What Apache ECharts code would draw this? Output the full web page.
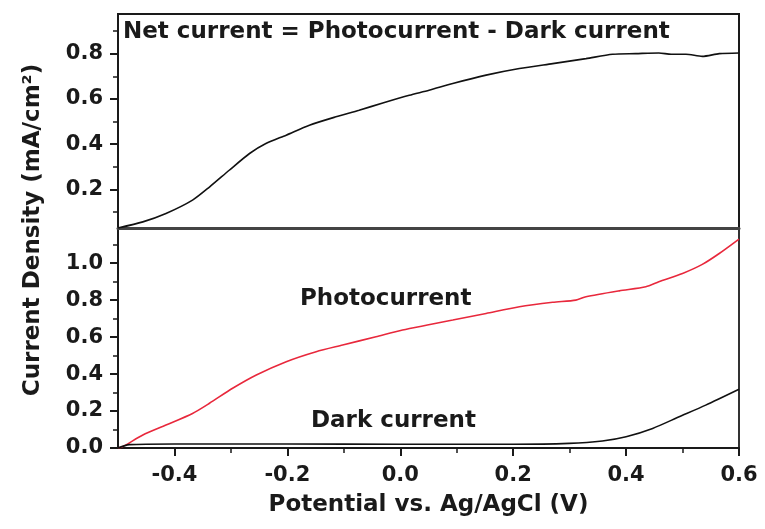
<!DOCTYPE html>
<html>
<head>
<meta charset="utf-8">
<script src="https://cdn.jsdelivr.net/npm/echarts@6/dist/echarts.min.js"></script>
<style>
html,body{margin:0;padding:0;background:#fff;}
#chart{width:765px;height:529px;}
</style>
</head>
<body>
<div id="chart"></div>
<script>
// ---- data ----
const netX = [-0.5, -0.456, -0.415, -0.368, -0.338, -0.303, -0.267, -0.238, -0.202, -0.161, -0.114, -0.073, -0.031, 0.016, 0.051, 0.093, 0.152, 0.211, 0.27, 0.329, 0.376, 0.417, 0.458, 0.48, 0.506, 0.535, 0.565, 0.6];
const netY = [0.03, 0.057, 0.094, 0.153, 0.211, 0.285, 0.359, 0.403, 0.44, 0.484, 0.521, 0.55, 0.582, 0.616, 0.638, 0.668, 0.705, 0.734, 0.756, 0.778, 0.797, 0.80, 0.803, 0.797, 0.797, 0.788, 0.80, 0.803];

const photoX = [-0.5, -0.492, -0.456, -0.415, -0.368, -0.338, -0.297, -0.255, -0.202, -0.149, -0.102, -0.043, 0.004, 0.048, 0.093, 0.152, 0.211, 0.27, 0.311, 0.329, 0.388, 0.435, 0.458, 0.5, 0.535, 0.565, 0.6];
const photoY = [0.0, 0.007, 0.07, 0.124, 0.187, 0.242, 0.323, 0.395, 0.467, 0.521, 0.557, 0.602, 0.638, 0.665, 0.692, 0.728, 0.764, 0.788, 0.80, 0.818, 0.85, 0.872, 0.899, 0.944, 0.993, 1.052, 1.13];

const darkX = [-0.5, -0.48, -0.4, -0.2, 0.0, 0.2, 0.299, 0.358, 0.40, 0.447, 0.494, 0.541, 0.6];
const darkY = [0.0, 0.018, 0.022, 0.022, 0.02, 0.02, 0.025, 0.038, 0.061, 0.106, 0.169, 0.232, 0.318];

const xTicks = [-0.4, -0.2, 0.0, 0.2, 0.4, 0.6];
const xMinor = [-0.3, -0.1, 0.1, 0.3, 0.5];
const topYTicks = [0.2, 0.4, 0.6, 0.8];
const topYMinor = [0.1, 0.3, 0.5, 0.7, 0.9];
const botYTicks = [0.0, 0.2, 0.4, 0.6, 0.8, 1.0];
const botYMinor = [0.1, 0.3, 0.5, 0.7, 0.9, 1.1];

const titleText = 'Net current = Photocurrent - Dark current';
const photoLabel = 'Photocurrent';
const darkLabel = 'Dark current';
const xName = 'Potential vs. Ag/AgCl (V)';
const yName = 'Current Density (mA/cm²)';

// ---- chart ----
const FONT = '"DejaVu Sans", sans-serif';
const INK = '#1a1a1a';
const pairs = (xs, ys) => xs.map((x, i) => [x, ys[i]]);
const fmt = v => v.toFixed(1);

const majorTick = vals => ({show: true, inside: false, length: 8, customValues: vals, lineStyle: {color: INK, width: 2}});
const minorTickAx = vals => ({show: true, inside: false, length: 5, customValues: vals, lineStyle: {color: INK, width: 1.5}});
const lbl = (vals, margin) => ({show: true, customValues: vals, formatter: fmt, margin: margin,
  fontFamily: FONT, fontWeight: 'bold', fontSize: 21, color: INK});

const chart = echarts.init(document.getElementById('chart'), null, {renderer: 'canvas'});
chart.setOption({
  animation: false,
  backgroundColor: '#ffffff',
  grid: [
    {left: 118, top: 14, width: 621, height: 214, show: true, borderColor: INK, borderWidth: 2, backgroundColor: 'transparent', containLabel: false},
    {left: 118, top: 228, width: 621, height: 220, show: true, borderColor: '#333', borderWidth: 2, backgroundColor: 'transparent', containLabel: false}
  ],
  xAxis: [
    {gridIndex: 0, type: 'value', position: 'bottom', min: -0.5, max: 0.6,
     axisLine: {show: true, lineStyle: {color: '#444', width: 3}}, axisTick: {show: false}, axisLabel: {show: false}, splitLine: {show: false}},
    {gridIndex: 1, type: 'value', position: 'bottom', min: -0.5, max: 0.6,
     axisLine: {show: true, onZero: false, lineStyle: {color: INK, width: 2}},
     axisTick: majorTick(xTicks), axisLabel: lbl(xTicks, 17), splitLine: {show: false},
     name: xName, nameLocation: 'middle', nameGap: 46,
     nameTextStyle: {fontFamily: FONT, fontWeight: 'bold', fontSize: 23, color: INK}},
    {gridIndex: 1, type: 'value', position: 'bottom', min: -0.5, max: 0.6,
     axisLine: {show: false, onZero: false}, axisTick: minorTickAx(xMinor), axisLabel: {show: false}, splitLine: {show: false}}
  ],
  yAxis: [
    {gridIndex: 0, type: 'value', position: 'left', min: 0.03, max: 0.975,
     axisLine: {show: true, onZero: false, lineStyle: {color: INK, width: 2}},
     axisTick: majorTick(topYTicks), axisLabel: lbl(topYTicks, 15), splitLine: {show: false}},
    {gridIndex: 0, type: 'value', position: 'left', min: 0.03, max: 0.975,
     axisLine: {show: false, onZero: false}, axisTick: minorTickAx(topYMinor), axisLabel: {show: false}, splitLine: {show: false}},
    {gridIndex: 1, type: 'value', position: 'left', min: 0, max: 1.19,
     axisLine: {show: true, onZero: false, lineStyle: {color: INK, width: 2}},
     axisTick: majorTick(botYTicks), axisLabel: lbl(botYTicks, 15), splitLine: {show: false}},
    {gridIndex: 1, type: 'value', position: 'left', min: 0, max: 1.19,
     axisLine: {show: false, onZero: false}, axisTick: minorTickAx(botYMinor), axisLabel: {show: false}, splitLine: {show: false}}
  ],
  series: [
    {name: 'Net current', type: 'line', xAxisIndex: 0, yAxisIndex: 0, data: pairs(netX, netY),
     showSymbol: false, smooth: 0.25, lineStyle: {color: '#111', width: 1.6}, z: 5},
    {name: 'Photocurrent', type: 'line', xAxisIndex: 1, yAxisIndex: 2, data: pairs(photoX, photoY),
     showSymbol: false, smooth: 0.25, lineStyle: {color: '#e8283c', width: 1.6}, z: 5},
    {name: 'Dark current', type: 'line', xAxisIndex: 1, yAxisIndex: 2, data: pairs(darkX, darkY),
     showSymbol: false, smooth: 0.25, lineStyle: {color: '#111', width: 1.6}, z: 5}
  ],
  graphic: [
    {type: 'text', left: 123, top: 21, style: {text: titleText, font: 'bold 23px ' + FONT, fill: INK}},
    {type: 'text', left: 300, top: 288, style: {text: photoLabel, font: 'bold 23px ' + FONT, fill: INK}},
    {type: 'text', left: 311, top: 410, style: {text: darkLabel, font: 'bold 23px ' + FONT, fill: INK}},
    {type: 'text', x: 33, y: 230, rotation: Math.PI / 2,
     style: {text: yName, font: 'bold 23px ' + FONT, fill: INK, align: 'center', verticalAlign: 'middle'}}
  ]
});
</script>
</body>
</html>
